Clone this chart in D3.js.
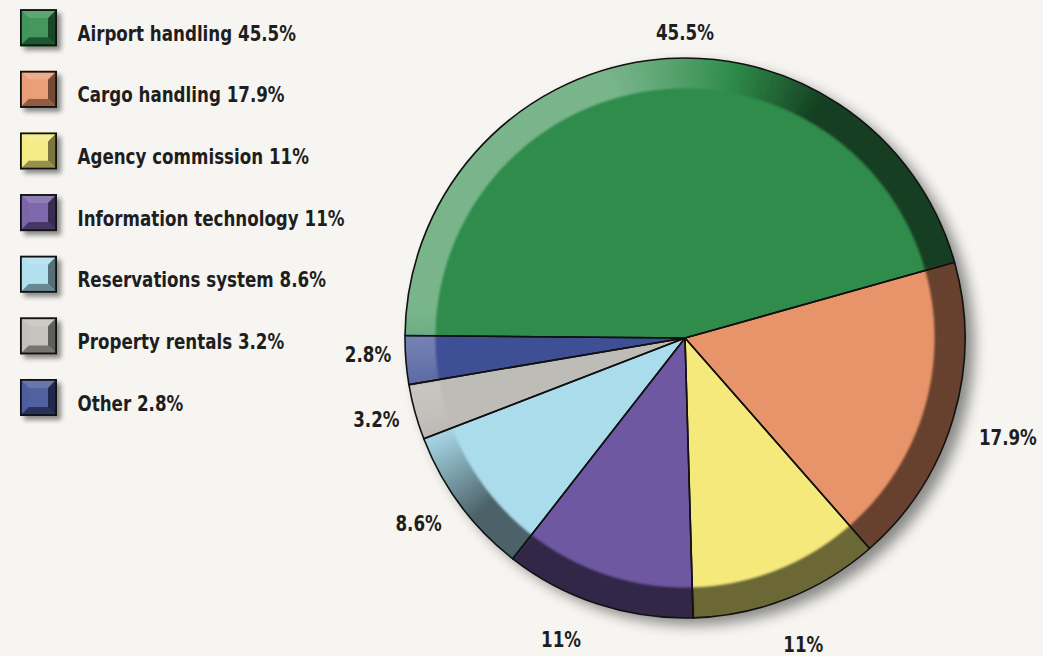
<!DOCTYPE html>
<html>
<head>
<meta charset="utf-8">
<script src="https://cdn.jsdelivr.net/npm/d3@7"></script>
<style>
  html, body { margin: 0; padding: 0; background: #f6f5f1; }
  svg { display: block; }
  text { font-family: "DejaVu Sans Condensed", "DejaVu Sans", sans-serif; font-weight: bold; fill: #1e1e1e; }
</style>
</head>
<body>
<svg id="chart" width="1043" height="656"></svg>
<script>
// Revenue breakdown by activity
const categories = ["Airport handling", "Cargo handling", "Agency commission", "Information technology", "Reservations system", "Property rentals", "Other"];
const shares = [45.5, 17.9, 11, 11, 8.6, 3.2, 2.8];
const shareLabels = ["45.5%", "17.9%", "11%", "11%", "8.6%", "3.2%", "2.8%"];
const legendLabels = ["Airport handling 45.5%", "Cargo handling 17.9%", "Agency commission 11%", "Information technology 11%", "Reservations system 8.6%", "Property rentals 3.2%", "Other 2.8%"];
const colors = ["#2f8c4b", "#e8946a", "#f4e97a", "#6f58a2", "#abdcec", "#bebcb7", "#3e4f95"];

const cx = 685, cy = 338, R = 280, rim = 30;
const svg = d3.select("#chart");
const defs = svg.append("defs");

// soft drop shadow behind the pie
const sh = defs.append("filter").attr("id", "pieShadow").attr("x", "-20%").attr("y", "-20%").attr("width", "140%").attr("height", "140%");
sh.append("feGaussianBlur").attr("in", "SourceAlpha").attr("stdDeviation", 7);
sh.append("feOffset").attr("dx", 9).attr("dy", 7).attr("result", "b");
sh.append("feComponentTransfer").append("feFuncA").attr("type", "linear").attr("slope", 0.45);

const rimBlur = defs.append("filter").attr("id", "rimBlur");
rimBlur.append("feGaussianBlur").attr("stdDeviation", 1.0);
defs.append("clipPath").attr("id", "pieClip").append("circle").attr("cx", cx).attr("cy", cy).attr("r", R);

const sqShadow = defs.append("filter").attr("id", "sqShadow").attr("x", "-30%").attr("y", "-30%").attr("width", "170%").attr("height", "170%");
sqShadow.append("feGaussianBlur").attr("in", "SourceAlpha").attr("stdDeviation", 2.5);
sqShadow.append("feOffset").attr("dx", 4).attr("dy", 4).attr("result", "o");
sqShadow.append("feComponentTransfer").append("feFuncA").attr("type", "linear").attr("slope", 0.45);

const startA = -89.5 * Math.PI / 180;
const pie = d3.pie().sort(null).value(d => d).startAngle(startA).endAngle(startA + 2 * Math.PI);
const arcs = pie(shares);

const g = svg.append("g").attr("transform", `translate(${cx},${cy})`);

// shadow
g.append("circle").attr("r", R).attr("fill", "#000").attr("filter", "url(#pieShadow)");

// slice faces
const arcFull = d3.arc().innerRadius(0).outerRadius(R);
g.selectAll("path.face").data(arcs).join("path")
  .attr("class", "face")
  .attr("d", arcFull)
  .attr("fill", (d, i) => colors[i]);

// bevelled rim, lit from the upper left
const lightDir = -50 * Math.PI / 180;
function shade(base, a) {
  const c = Math.cos(a - lightDir);
  const t = Math.max(-1, Math.min(1, (c - 0.5) * 3));
  return t >= 0 ? d3.interpolateRgb(base, "#ffffff")(0.36 * t)
                : d3.interpolateRgb(base, "#000000")(0.56 * -t);
}
const rimArc = d3.arc().innerRadius(R - rim).outerRadius(R + 2);
const step = Math.PI / 180;
const rimPieces = [];
arcs.forEach((d, i) => {
  for (let a = d.startAngle; a < d.endAngle - 1e-6; a += step) {
    const b = Math.min(a + step, d.endAngle);
    rimPieces.push({ startAngle: a, endAngle: b, color: shade(colors[i], (a + b) / 2) });
  }
});
const rimG = svg.append("g").attr("clip-path", "url(#pieClip)")
  .append("g").attr("transform", `translate(${cx},${cy})`).attr("filter", "url(#rimBlur)");
rimG.selectAll("path").data(rimPieces).join("path")
  .attr("d", rimArc)
  .attr("fill", d => d.color)
  .attr("stroke", d => d.color)
  .attr("stroke-width", 0.8);

// outlines
const gl = svg.append("g").attr("transform", `translate(${cx},${cy})`);
gl.selectAll("path").data(arcs).join("path")
  .attr("d", arcFull)
  .attr("fill", "none")
  .attr("stroke", "#111")
  .attr("stroke-width", 1.6)
  .attr("stroke-linejoin", "round");

// value labels around the pie
const labelArc = d3.arc().innerRadius(318).outerRadius(318);
const nudges = [[42, 10], [18, 9], [2, 10], [-25, -1], [-11, -4], [-2, -3], [0, -9]];
const sx = 0.885;
gl.selectAll("text").data(arcs).join("text")
  .attr("transform", (d, i) => {
    const [x, y] = labelArc.centroid(d);
    return `translate(${x + nudges[i][0]},${y + nudges[i][1]}) scale(${sx},1)`;
  })
  .attr("text-anchor", "middle")
  .attr("dy", "0.36em")
  .attr("font-size", 21)
  .text((d, i) => shareLabels[i]);

// legend
const y = d3.scalePoint().domain(categories).range([27.7, 397.5]);
const s = 37, bev = 9;
const legend = svg.append("g");
const rows = legend.selectAll("g").data(categories).join("g")
  .attr("transform", d => `translate(20,${y(d) - s / 2})`);

rows.append("rect").attr("width", s).attr("height", s).attr("fill", "#000").attr("filter", "url(#sqShadow)");
const facet = (pts) => pts.map(p => p.join(",")).join(" ");
rows.each(function (d, i) {
  const r = d3.select(this);
  const c = colors[i];
  const a = 0, b = s, p = bev, q = s - bev;
  r.append("rect").attr("width", s).attr("height", s).attr("fill", c);
  r.append("polygon").attr("points", facet([[a, a], [b, a], [q, p], [p, p]])).attr("fill", d3.interpolateRgb(c, "#fff")(0.22));
  r.append("polygon").attr("points", facet([[a, a], [p, p], [p, q], [a, b]])).attr("fill", d3.interpolateRgb(c, "#fff")(0.08));
  r.append("polygon").attr("points", facet([[b, a], [b, b], [q, q], [q, p]])).attr("fill", d3.interpolateRgb(c, "#000")(0.5));
  r.append("polygon").attr("points", facet([[a, b], [p, q], [q, q], [b, b]])).attr("fill", d3.interpolateRgb(c, "#000")(0.38));
  r.append("rect").attr("x", p).attr("y", p).attr("width", q - p).attr("height", q - p).attr("fill", d3.interpolateRgb(c, "#fff")(0.1));
  r.append("rect").attr("x", 0.9).attr("y", 0.9).attr("width", s - 1.8).attr("height", s - 1.8)
    .attr("fill", "none").attr("stroke", "#111").attr("stroke-width", 1.8);
});

rows.append("text")
  .attr("transform", `translate(57.5,${s / 2 + 13}) scale(${sx},1)`)
  .attr("font-size", 21)
  .text((d, i) => legendLabels[i]);
</script>
</body>
</html>
